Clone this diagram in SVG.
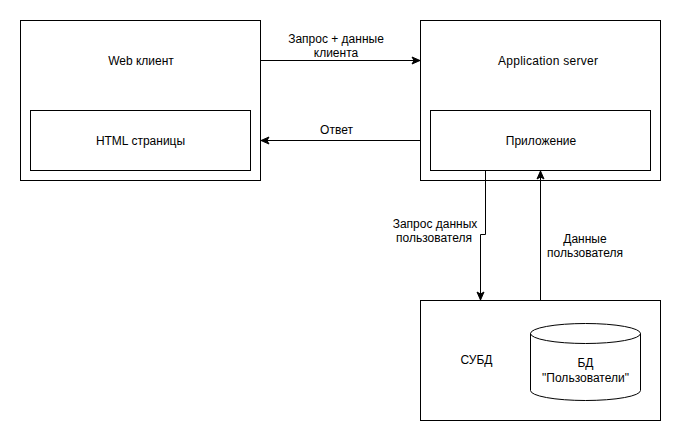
<svg xmlns="http://www.w3.org/2000/svg" width="681" height="441" viewBox="0 0 681 441">
  <style>
    .box { fill: #ffffff; stroke: #000000; stroke-width: 1; }
    .edge { fill: none; stroke: #000000; stroke-width: 1; }
    text { font-family: "Liberation Sans", Arial, Helvetica, sans-serif; font-size: 12px; fill: #000000; text-anchor: middle; }
  </style>
  <defs>
    <marker id="arrow" markerUnits="userSpaceOnUse" markerWidth="10" markerHeight="10" viewBox="0 0 10 10" refX="9" refY="5" orient="auto">
      <path d="M1,1.5 L9,5 L1,8.5 L3,5 Z" fill="#000000" stroke="#000000" stroke-width="1" stroke-linejoin="miter"/>
    </marker>
  </defs>
  <rect width="681" height="441" fill="#ffffff"/>

  <!-- client side -->
  <g id="web-client">
    <rect class="box" x="20.5" y="20.5" width="240" height="160"/>
    <text x="141" y="65">Web клиент</text>
  </g>
  <g id="html-pages">
    <rect class="box" x="30.5" y="110.5" width="220" height="60"/>
    <text x="140.5" y="145">HTML страницы</text>
  </g>

  <!-- server side -->
  <g id="app-server">
    <rect class="box" x="420.5" y="20.5" width="240" height="160"/>
    <text x="548" y="65" textLength="100">Application server</text>
  </g>
  <g id="application">
    <rect class="box" x="430.5" y="110.5" width="220" height="60"/>
    <text x="541" y="145">Приложение</text>
  </g>

  <!-- database server with its storage -->
  <g id="dbms">
    <rect class="box" x="420.5" y="300.5" width="240" height="120"/>
    <text x="476.5" y="364">СУБД</text>
  </g>
  <g id="users-db">
    <path class="box" d="M530.5,333.5 A55,10 0 0 1 640.5,333.5 V390.5 A55,10 0 0 1 530.5,390.5 Z"/>
    <path class="edge" d="M530.5,333.5 A55,10 0 0 0 640.5,333.5"/>
    <text x="585.5" y="367">БД</text>
    <text x="585.5" y="382">"Пользователи"</text>
  </g>

  <!-- connectors -->
  <g id="connectors">
    <path class="edge" d="M260.5,60.5 H420" marker-end="url(#arrow)"/>
    <path class="edge" d="M420.5,140.5 H261" marker-end="url(#arrow)"/>
    <path class="edge" d="M485.5,170.5 V234.5 H480.5 V300" marker-end="url(#arrow)"/>
    <path class="edge" d="M540.5,300.5 V171" marker-end="url(#arrow)"/>

    <text x="336" y="43">Запрос + данные</text>
    <text x="336" y="57">клиента</text>
    <text x="336.5" y="134">Ответ</text>
    <text x="435" y="228">Запрос данных</text>
    <text x="434" y="242">пользователя</text>
    <text x="585" y="243">Данные</text>
    <text x="585" y="257">пользователя</text>
  </g>
</svg>
